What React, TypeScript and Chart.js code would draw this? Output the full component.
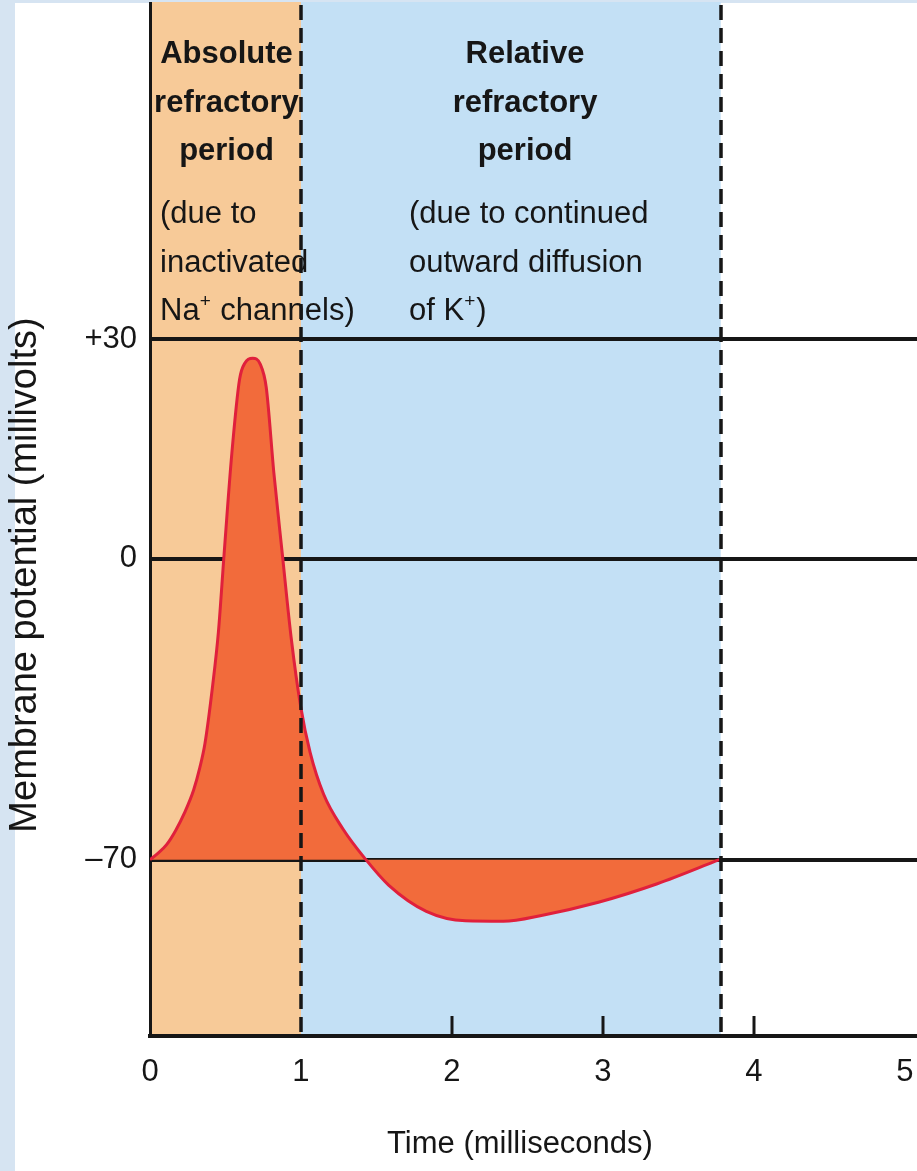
import React, { useEffect, useRef } from 'react';
import { Chart, registerables, LinearScale } from 'chart.js';

// ---- data ----
const timeMs = [0, 0.05, 0.11, 0.17, 0.23, 0.289, 0.33, 0.364, 0.415, 0.453, 0.491, 0.542, 0.593, 0.63, 0.68, 0.73, 0.77, 0.82, 0.877, 0.935, 0.998, 1.06, 1.15, 1.277, 1.43, 1.58, 1.83, 2.09, 2.34, 2.6, 2.97, 3.36, 3.77];
const voltageMv = [-70, -68.6, -66.5, -63.2, -59.0, -53.8, -48.6, -43, -29.5, -17.1, 0.7, 14.4, 24.5, 26.8, 27.4, 26.6, 23.4, 11.8, 0.5, -18.4, -34.4, -45, -54.8, -62.8, -70, -75.9, -82, -84.2, -84.3, -82.9, -79.9, -75.6, -70];
const restingMv = -70;

const xTicks = [0, 1, 2, 3, 4, 5];
const xTickMarks = [2, 3, 4];
const yTicks = [-70, 0, 30];
const yTickLabels = ['\u201370', '0', '+30'];

const periodBounds = [0, 1, 3.78];
const periodColors = ['#F7CA98', '#C3E0F5'];

const absTitle = ['Absolute', 'refractory', 'period'];
const absNote = ['(due to', 'inactivated', 'Na^+ channels)'];
const relTitle = ['Relative', 'refractory', 'period'];
const relNote = ['(due to continued', 'outward diffusion', 'of K^+)'];
const xTitle = 'Time (milliseconds)';
const yTitle = 'Membrane potential (millivolts)';

// ---- scale: positive values drawn with a larger mV spacing (schematic axis) ----
const POS_STRETCH = 1.7;
class PiecewiseScale extends LinearScale {
  static id = 'piecewise';
  st(v: number) { return v > 0 ? v * POS_STRETCH : v; }
  ust(u: number) { return u > 0 ? u / POS_STRETCH : u; }
  getPixelForValue(value: number) {
    const lo = this.st(this.min), hi = this.st(this.max);
    return this.getPixelForDecimal((this.st(value) - lo) / (hi - lo));
  }
  getValueForPixel(pixel: number) {
    const lo = this.st(this.min), hi = this.st(this.max);
    return this.ust(lo + this.getDecimalForPixel(pixel) * (hi - lo));
  }
}
Chart.register(...registerables, PiecewiseScale as any);

const FONT = "'Liberation Sans', Arial, Helvetica, sans-serif";
const INK = '#161616';

function drawRich(ctx: CanvasRenderingContext2D, text: string, x: number, y: number, align: 'left' | 'center', size: number, weight: string) {
  const segs = text.split(/(\^.)/).filter((s) => s.length);
  const supSize = Math.round(size * 0.6);
  const widths = segs.map((s) => {
    if (s[0] === '^') { ctx.font = `${weight} ${supSize}px ${FONT}`; return ctx.measureText(s.slice(1)).width + 1; }
    ctx.font = `${weight} ${size}px ${FONT}`; return ctx.measureText(s).width;
  });
  const total = widths.reduce((a, b) => a + b, 0);
  let cx = align === 'center' ? x - total / 2 : x;
  ctx.textAlign = 'left';
  ctx.textBaseline = 'alphabetic';
  segs.forEach((s, i) => {
    if (s[0] === '^') {
      ctx.font = `${weight} ${supSize}px ${FONT}`;
      ctx.fillText(s.slice(1), cx, y - size * 0.42);
    } else {
      ctx.font = `${weight} ${size}px ${FONT}`;
      ctx.fillText(s, cx, y);
    }
    cx += widths[i];
  });
}

const zeroPad = (s: any) => { s.paddingTop = 0; s.paddingBottom = 0; s.paddingLeft = 0; s.paddingRight = 0; };

const decor = {
  id: 'decor',
  beforeDraw(chart: any) {
    const { ctx, chartArea, scales } = chart;
    const x = scales.x;
    ctx.save();
    for (let i = 0; i < periodColors.length; i++) {
      const x0 = x.getPixelForValue(periodBounds[i]);
      const x1 = x.getPixelForValue(periodBounds[i + 1]);
      ctx.fillStyle = periodColors[i];
      ctx.fillRect(x0, chartArea.top - 1, x1 - x0, chartArea.bottom - chartArea.top + 1);
    }
    ctx.restore();
  },
  afterDraw(chart: any) {
    const { ctx, chartArea, scales } = chart;
    const x = scales.x;
    ctx.save();
    // dashed boundaries
    ctx.strokeStyle = INK;
    ctx.lineWidth = 3.5;
    ctx.setLineDash([15, 8]);
    for (let i = 1; i < periodBounds.length; i++) {
      const px = Math.round(x.getPixelForValue(periodBounds[i]));
      ctx.beginPath();
      ctx.moveTo(px, chartArea.top + 2);
      ctx.lineTo(px, chartArea.bottom);
      ctx.stroke();
    }
    ctx.setLineDash([]);
    // inward tick marks
    ctx.lineWidth = 3;
    xTickMarks.forEach((v) => {
      const px = Math.round(x.getPixelForValue(v));
      ctx.beginPath();
      ctx.moveTo(px, chartArea.bottom);
      ctx.lineTo(px, chartArea.bottom - 20);
      ctx.stroke();
    });
    // annotations
    ctx.fillStyle = INK;
    const titleBase = [63, 112, 160];
    const noteBase = [223, 272, 320];
    const absCenter = x.getPixelForValue(0.5) + 1;
    const absLeft = x.getPixelForValue(0) + 10;
    const relCenter = 525;
    const relLeft = 409;
    absTitle.forEach((t, i) => drawRich(ctx, t, absCenter, titleBase[i], 'center', 31, 'bold'));
    absNote.forEach((t, i) => drawRich(ctx, t, absLeft, noteBase[i], 'left', 31, 'normal'));
    relTitle.forEach((t, i) => drawRich(ctx, t, relCenter, titleBase[i], 'center', 31, 'bold'));
    relNote.forEach((t, i) => drawRich(ctx, t, relLeft, noteBase[i], 'left', 31, 'normal'));
    // axis titles
    ctx.font = `normal 31px ${FONT}`;
    ctx.textAlign = 'center';
    ctx.textBaseline = 'alphabetic';
    ctx.fillText(xTitle, 520, 1153);
    ctx.translate(26, 575);
    ctx.rotate(-Math.PI / 2);
    ctx.font = `normal 38px ${FONT}`;
    ctx.textBaseline = 'middle';
    ctx.fillText(yTitle, 0, 0);
    ctx.restore();
  },
};

export default function App() {
  const ref = useRef<HTMLCanvasElement | null>(null);
  useEffect(() => {
    if (!ref.current) return;
    const chart = new Chart(ref.current, {
      type: 'line',
      data: {
        datasets: [
          {
            label: 'Membrane potential',
            data: timeMs.map((t, i) => ({ x: t, y: voltageMv[i] })),
            borderColor: '#E0203C',
            borderWidth: 3,
            backgroundColor: '#F26B3B',
            fill: { value: restingMv },
            pointRadius: 0,
            cubicInterpolationMode: 'monotone',
          },
        ],
      },
      options: {
        responsive: false,
        animation: false,
        layout: { padding: { top: 3, left: 0, right: 0, bottom: 0 } },
        plugins: { legend: { display: false }, tooltip: { enabled: false }, title: { display: false } },
        scales: {
          x: {
            type: 'linear',
            min: 0,
            max: 5.08,
            afterBuildTicks: (s: any) => { s.ticks = xTicks.map((v) => ({ value: v })); },
            afterFit: (s: any) => { s.height = 135; zeroPad(s); },
            grid: { display: true, drawOnChartArea: false, drawTicks: false },
            border: { display: true, color: INK, width: 4 },
            ticks: { padding: 18, color: INK, font: { family: FONT, size: 31 }, callback: (v: any) => String(v), maxRotation: 0 },
          },
          y: {
            type: 'piecewise' as any,
            min: -111,
            max: 76,
            z: 1,
            afterBuildTicks: (s: any) => { s.ticks = yTicks.map((v) => ({ value: v })); },
            afterFit: (s: any) => { s.width = 150; zeroPad(s); },
            grid: { color: INK, lineWidth: 4, drawTicks: false },
            border: { display: true, color: INK, width: 3 },
            ticks: { padding: 13, color: INK, font: { family: FONT, size: 31 }, callback: (v: any) => yTickLabels[yTicks.indexOf(v)] },
          },
        },
      },
      plugins: [decor],
    } as any);
    return () => chart.destroy();
  }, []);
  return (
    <div
      style={{
        position: 'absolute',
        left: 0,
        top: 0,
        width: 917,
        height: 1171,
        background: 'linear-gradient(#D6E4F2, #D6E4F2) 0 0 / 100% 3px no-repeat, linear-gradient(to right, #D6E4F2 15px, #FFFFFF 15px)',
      }}
    >
      <canvas ref={ref} width={917} height={1171} style={{ display: 'block' }} />
    </div>
  );
}
